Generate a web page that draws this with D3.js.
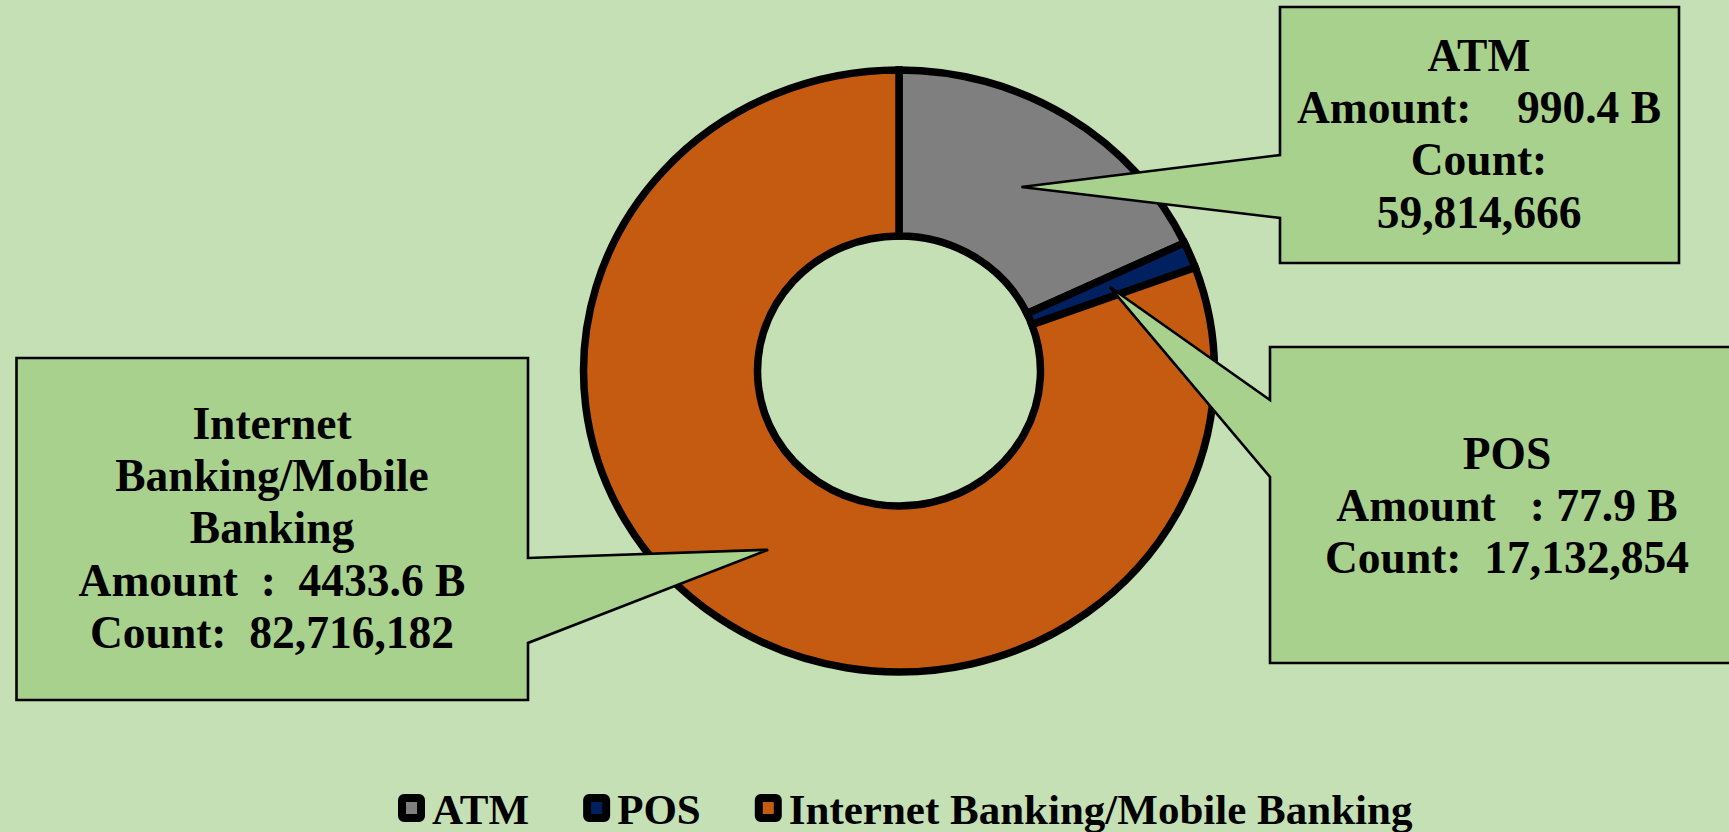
<!DOCTYPE html>
<html>
<head>
<meta charset="utf-8">
<script src="https://cdn.jsdelivr.net/npm/d3@7"></script>
<style>
  html, body { margin: 0; padding: 0; background: #c5e0b4; }
  svg { display: block; }
  text { font-family: "Liberation Serif", "Times New Roman", serif; font-weight: bold; fill: #000; white-space: pre; }
</style>
</head>
<body>
<svg id="chart" width="1729" height="832"></svg>
<script>
// ---- data ----
const categories = ["ATM", "POS", "Internet Banking/Mobile Banking"];
const amounts = [990.4, 77.9, 4433.6];           // billions
const counts = [59814666, 17132854, 82716182];
const colors = ["#7f7f7f", "#002060", "#c55a11"];

// ---- layout (positions / styles only) ----
const W = 1729, H = 832;
const cx = 899, cy = 371, rOuter = 301, rInner = 135, stretchX = 1.048;
const fmtCount = d3.format(",");

const callouts = [
  { box: [1280, 7, 1679, 263], side: "left", notch: [155, 218], tx: 1479, ty: 71, step: 52.2,
    lines: (i) => [categories[i], "Amount:    " + amounts[i] + " B", "Count:", fmtCount(counts[i])] },
  { box: [1270, 347, 1745, 663], side: "left", notch: [400, 477], tx: 1507, ty: 469, step: 52,
    lines: (i) => [categories[i], "Amount   : " + amounts[i] + " B", "Count:  " + fmtCount(counts[i])] },
  { box: [16.5, 358, 528, 700], side: "right", notch: [558, 643], tx: 272, ty: 439, step: 52.2,
    lines: (i) => ["Internet", "Banking/Mobile", "Banking", "Amount  :  " + amounts[i] + " B", "Count:  " + fmtCount(counts[i])] }
];

const svg = d3.select("#chart");
svg.append("rect").attr("width", W).attr("height", H).attr("fill", "#c5e0b4");

// ---- donut ----
const pie = d3.pie().sort(null).value(d => d)(amounts);
const arc = d3.arc().innerRadius(rInner).outerRadius(rOuter);

const g = svg.append("g").attr("transform", `translate(${cx},${cy}) scale(${stretchX},1)`);
g.selectAll("path.slice")
  .data(pie)
  .join("path")
  .attr("class", "slice")
  .attr("d", arc)
  .attr("fill", (d, i) => colors[i])
  .attr("stroke", "#000")
  .attr("stroke-width", 7.5)
  .attr("stroke-linejoin", "miter")
  .attr("vector-effect", "non-scaling-stroke");

// ---- callouts ----
const cg = svg.append("g");
pie.forEach((d, i) => {
  const c = callouts[i];
  const [x1, y1, x2, y2] = c.box;
  const cen = arc.centroid(d);
  const tip = [cx + cen[0] * stretchX, cy + cen[1]];
  let p;
  if (c.side === "left") {
    p = `M${x1},${y1}H${x2}V${y2}H${x1}V${c.notch[1]}L${tip[0]},${tip[1]}L${x1},${c.notch[0]}Z`;
  } else {
    p = `M${x1},${y1}H${x2}V${c.notch[0]}L${tip[0]},${tip[1]}L${x2},${c.notch[1]}V${y2}H${x1}Z`;
  }
  cg.append("path")
    .attr("d", p)
    .attr("fill", "#a9d18e")
    .attr("stroke", "#000")
    .attr("stroke-width", 2.6)
    .attr("stroke-linejoin", "miter");
  const t = cg.append("text")
    .attr("text-anchor", "middle")
    .attr("font-size", 45.5);
  c.lines(i).forEach((ln, k) => {
    t.append("tspan").attr("x", c.tx).attr("y", c.ty + k * c.step).text(ln);
  });
});

// ---- legend ----
const lg = svg.append("g");
let lx = 398;
const ly = 824;
categories.forEach((name, i) => {
  lg.append("rect")
    .attr("x", lx + 4).attr("y", 798)
    .attr("width", 19).attr("height", 20)
    .attr("rx", 2)
    .attr("fill", colors[i])
    .attr("stroke", "#000")
    .attr("stroke-width", 8);
  const t = lg.append("text")
    .attr("x", lx + 34).attr("y", ly)
    .attr("font-size", 43)
    .text(name);
  const w = t.node().getComputedTextLength();
  lx = lx + 34 + w + 54;
});
</script>
</body>
</html>
